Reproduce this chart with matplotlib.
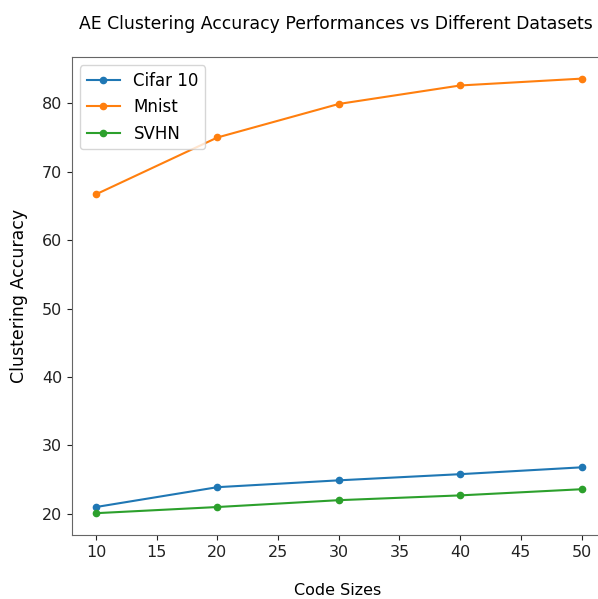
import matplotlib
matplotlib.use("Agg")
import matplotlib.pyplot as plt

code_sizes = [10, 20, 30, 40, 50]
cifar10 = [21.0, 23.9, 24.9, 25.8, 26.8]
mnist = [66.7, 75.0, 79.9, 82.6, 83.6]
svhn = [20.1, 21.0, 22.0, 22.7, 23.6]

plt.rcParams['font.family'] = ['DejaVu Sans']

fig = plt.figure(figsize=(5.98, 5.99), dpi=100)
ax = fig.add_axes([0.120, 0.107, 0.893, 0.798])

ax.plot(code_sizes, cifar10, marker='o', markersize=4.5, label='Cifar 10')
ax.plot(code_sizes, mnist, marker='o', markersize=4.5, label='Mnist')
ax.plot(code_sizes, svhn, marker='o', markersize=4.5, label='SVHN')

ax.set_xticks([10, 15, 20, 25, 30, 35, 40, 45, 50])
ax.set_xlim(8, 52)
ax.tick_params(labelsize=11.5, colors='#222222')
for s in ax.spines.values():
    s.set_color('#666666')
ax.spines['right'].set_visible(False)

ax.set_xlabel('Code Sizes', fontsize=11.5)
ax.xaxis.set_label_coords(0.498, -0.101)
ax.set_ylabel('Clustering Accuracy', fontsize=12.5)
ax.yaxis.set_label_coords(-0.082, 0.5)
fig.suptitle('AE Clustering Accuracy Performances vs Different Datasets',
             fontsize=12.4, x=0.561, y=0.975)
ax.legend(loc='upper left', fontsize=12)

fig.savefig('out.png', dpi=100)
